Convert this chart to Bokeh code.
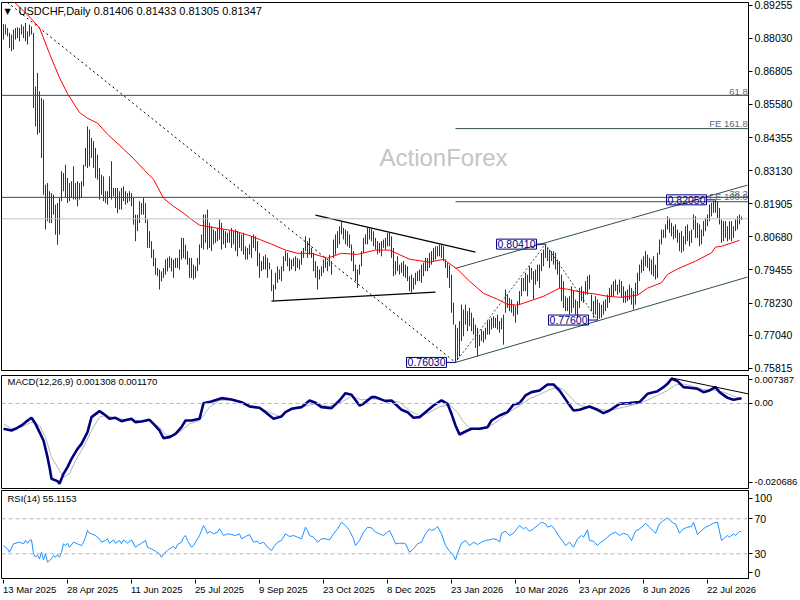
import numpy as np
from bokeh.plotting import figure
from bokeh.layouts import column
from bokeh.models import (Range1d, FixedTicker, PrintfTickFormatter, Label, Span)
from bokeh.embed import file_html
from bokeh.resources import INLINE
from bokeh.core.properties import value

# ---------------- data (prices in 1/10000) ----------------
HIGH_PIPS = [
    8856, 8854, 8841, 8823, 8817, 8835, 8841, 8844, 8841, 8854,
    8847, 8860, 8829, 8854, 8847, 8823, 8625, 8675, 8607, 8582,
    8576, 8261, 8267, 8237, 8230, 8224, 8187, 8193, 8212, 8311,
    8304, 8335, 8286, 8267, 8274, 8329, 8267, 8274, 8267, 8274,
    8335, 8397, 8477, 8465, 8434, 8422, 8397, 8372, 8323, 8298,
    8292, 8237, 8237, 8292, 8348, 8249, 8249, 8249, 8237, 8249,
    8255, 8237, 8230, 8237, 8230, 8212, 8150, 8150, 8200, 8193,
    8212, 8193, 8132, 8089, 8052, 8021, 7990, 7953, 7947, 7940,
    7953, 7984, 7990, 7996, 7990, 7984, 7990, 7990, 8021, 8064,
    8064, 8039, 8015, 7990, 7990, 7965, 7959, 7990, 8040, 8077,
    8151, 8151, 8169, 8120, 8107, 8095, 8089, 8101, 8132, 8120,
    8095, 8089, 8083, 8089, 8101, 8089, 8095, 8089, 8083, 8077,
    8083, 8033, 8027, 8040, 8070, 8077, 8070, 8052, 8009, 7978,
    7996, 8002, 7990, 7972, 7947, 7891, 7935, 7959, 7947, 7959,
    7996, 8015, 8009, 7990, 7984, 7990, 7996, 7990, 7984, 8015,
    8027, 8070, 8052, 8064, 8027, 8009, 7978, 7959, 7947, 7959,
    7984, 7990, 7978, 8002, 7978, 8058, 8077, 8089, 8107, 8126,
    8101, 8095, 8089, 8077, 8040, 8015, 7965, 7947, 7965, 8015,
    8064, 8077, 8101, 8101, 8101, 8089, 8064, 8052, 8046, 8052,
    8058, 8064, 8083, 8083, 8070, 8027, 7978, 7996, 7965, 7972,
    7978, 7965, 7959, 7922, 7928, 7916, 7935, 7941, 7947, 7965,
    7972, 7990, 7990, 8009, 8015, 8027, 8033, 8033, 8040, 8040,
    8033, 7984, 7972, 7965, 7928, 7824, 7743, 7731, 7756, 7817,
    7799, 7817, 7793, 7805, 7787, 7768, 7743, 7731, 7706, 7725,
    7719, 7731, 7756, 7762, 7768, 7774, 7768, 7780, 7756, 7768,
    7780, 7873, 7854, 7842, 7836, 7817, 7811, 7830, 7867, 7916,
    7916, 7935, 7928, 7959, 7953, 7941, 7947, 7965, 7965, 8009,
    8021, 8041, 8027, 8021, 8015, 8015, 8009, 7984, 7978, 7928,
    7904, 7848, 7842, 7848, 7885, 7867, 7836, 7830, 7879, 7885,
    7867, 7904, 7922, 7928, 7854, 7830, 7848, 7836, 7824, 7817,
    7830, 7836, 7854, 7879, 7891, 7904, 7910, 7891, 7910, 7904,
    7885, 7867, 7873, 7891, 7879, 7867, 7898, 7935, 7965, 7984,
    7996, 8015, 8002, 7990, 7984, 7996, 7965, 8009, 8058, 8095,
    8095, 8114, 8144, 8138, 8120, 8107, 8114, 8095, 8083, 8089,
    8070, 8107, 8114, 8089, 8095, 8151, 8144, 8120, 8114, 8095,
    8126, 8138, 8151, 8188, 8194, 8200, 8205, 8200, 8175, 8132,
    8126, 8126, 8107, 8126, 8126, 8107, 8132, 8144, 8151, 8143,
]
LOW_PIPS = [
    8798, 8817, 8810, 8767, 8755, 8761, 8798, 8804, 8792, 8817,
    8804, 8792, 8780, 8810, 8817, 8545, 8477, 8446, 8453, 8360,
    8224, 8095, 8126, 8119, 8119, 8150, 8076, 8039, 8076, 8200,
    8237, 8212, 8193, 8200, 8212, 8206, 8206, 8181, 8206, 8212,
    8255, 8329, 8323, 8329, 8360, 8323, 8286, 8280, 8206, 8224,
    8200, 8193, 8187, 8212, 8206, 8218, 8175, 8156, 8169, 8169,
    8200, 8187, 8193, 8200, 8181, 8113, 8052, 8089, 8119, 8150,
    8150, 8119, 8027, 8027, 7990, 7959, 7928, 7922, 7873, 7903,
    7916, 7928, 7940, 7953, 7940, 7916, 7953, 7953, 7947, 7984,
    7990, 7984, 7965, 7916, 7916, 7910, 7916, 7941, 7965, 8027,
    8021, 8046, 8021, 8027, 8015, 8040, 8046, 8052, 8058, 8021,
    8040, 8027, 8046, 8046, 8027, 8040, 8015, 7996, 8027, 8015,
    8002, 7984, 7984, 8002, 7990, 8027, 8015, 7959, 7916, 7941,
    7947, 7947, 7916, 7947, 7867, 7830, 7873, 7898, 7910, 7904,
    7941, 7978, 7959, 7941, 7947, 7959, 7941, 7953, 7947, 7965,
    7990, 8015, 7990, 8002, 7990, 7941, 7916, 7873, 7910, 7922,
    7935, 7953, 7941, 7959, 7928, 7990, 8002, 8027, 8040, 8077,
    8058, 8040, 8033, 8027, 7978, 7941, 7904, 7879, 7928, 7959,
    8009, 8040, 8040, 8058, 8052, 8033, 8021, 8003, 8009, 7996,
    8027, 8021, 8033, 8033, 7990, 7922, 7928, 7941, 7928, 7935,
    7922, 7916, 7904, 7867, 7861, 7873, 7891, 7904, 7904, 7898,
    7922, 7941, 7941, 7953, 7965, 7978, 7984, 7996, 7996, 7990,
    7978, 7953, 7916, 7879, 7787, 7743, 7603, 7612, 7626, 7682,
    7700, 7743, 7719, 7737, 7719, 7706, 7657, 7626, 7663, 7682,
    7676, 7688, 7706, 7706, 7725, 7731, 7731, 7725, 7713, 7725,
    7669, 7787, 7805, 7793, 7787, 7774, 7750, 7780, 7817, 7848,
    7867, 7867, 7848, 7898, 7910, 7836, 7891, 7904, 7879, 7941,
    7959, 7990, 7978, 7953, 7978, 7965, 7947, 7928, 7879, 7830,
    7805, 7793, 7793, 7780, 7787, 7805, 7780, 7768, 7805, 7830,
    7824, 7854, 7854, 7873, 7793, 7768, 7780, 7760, 7765, 7768,
    7780, 7793, 7805, 7824, 7848, 7848, 7867, 7854, 7861, 7842,
    7824, 7824, 7830, 7836, 7817, 7799, 7817, 7854, 7904, 7935,
    7941, 7959, 7953, 7941, 7928, 7922, 7910, 7916, 8002, 8040,
    8064, 8064, 8095, 8083, 8070, 8058, 8064, 8046, 8015, 8009,
    8015, 8040, 8052, 8033, 8046, 8095, 8064, 8064, 8033, 8040,
    8070, 8089, 8107, 8126, 8144, 8157, 8157, 8138, 8114, 8046,
    8052, 8064, 8052, 8058, 8052, 8064, 8089, 8095, 8114, 8130,
]

# moving average (bar index, price in 1/10000)
MA_POINTS = [(3, 8955), (5, 8940), (12, 8890), (18, 8842), (23, 8746), (28, 8657), (32, 8598),
             (38, 8528), (42, 8507), (47, 8489), (52, 8448), (60, 8393), (65, 8358), (70, 8318),
             (75, 8281), (80, 8211), (85, 8181), (90, 8156), (93, 8138), (98, 8111), (107, 8100),
             (116, 8089), (124, 8070), (134, 8041), (141, 8019), (147, 8007), (154, 8007),
             (162, 7989), (169, 8007), (177, 8003), (186, 8019), (193, 8019), (203, 7985),
             (213, 7974), (220, 7985), (227, 7948), (233, 7904), (240, 7859), (247, 7837),
             (252, 7818), (257, 7815), (263, 7830), (270, 7848), (278, 7878), (282, 7874),
             (289, 7863), (296, 7856), (302, 7848), (309, 7844), (317, 7852), (322, 7878),
             (329, 7898), (332, 7929), (337, 7949), (346, 7978), (354, 8009), (356, 8030),
             (359, 8033), (368, 8055)]

# MACD main line and signal (bar index, value in 1/10000)
MACD_POINTS = [(0, -62.4), (4, -66.5), (6, -62.4), (9, -54.2), (11, -46), (14, -35.3), (16, -50.1),
               (18, -70.6), (20, -91.1), (22, -132.2), (23, -156.8), (24, -185.6), (27, -191.3),
               (28, -197.9), (30, -173.2), (32, -156.8), (34, -136.3), (37, -111.7), (39, -99.4),
               (42, -70.6), (44, -33.7), (48, -18.9), (50, -25.5), (53, -37.8), (56, -35.3),
               (59, -43.5), (64, -37.8), (66, -46), (69, -44.3), (73, -40.2), (75, -50.1),
               (78, -66.5), (80, -85.4), (83, -82.9), (86, -74.7), (89, -58.3), (91, -41.9),
               (94, -41.9), (98, -37.8), (100, 0.6), (104, 4.9), (109, 13.1), (114, 9.8),
               (119, 3.3), (123, -7.4), (128, -10.7), (131, -21.4), (135, -37.8), (139, -32),
               (141, -21.4), (144, -13.1), (149, -9), (153, 7.4), (156, 1.6), (159, -9),
               (164, -11.5), (168, 7.4), (171, 25.4), (174, 21.3), (178, -5), (180, -0.8),
               (184, 15.6), (186, 15.6), (191, 5.7), (194, 7.4), (199, -15.6), (202, -21.4),
               (205, -35.3), (208, -33.7), (212, -17.2), (215, -5), (219, 7.4), (222, -0.8),
               (224, -25.5), (226, -54.2), (228, -76.4), (232, -66.5), (234, -62.4), (238, -62.4),
               (242, -58.3), (244, -41.9), (248, -29.6), (252, -21.4), (255, -2.5), (258, 0.8),
               (261, 19.7), (264, 27.9), (268, 32), (272, 46.8), (275, 46.8), (278, 32),
               (282, 3.3), (285, -17.2), (288, -15.6), (293, -7.4), (297, -15.6), (300, -23.8),
               (303, -17.2), (308, -0.8), (313, 0.8), (318, 3.3), (322, 23.8), (327, 30.4),
               (330, 40.2), (332, 48.4), (334, 60.7), (337, 55), (340, 40.2), (343, 38.6),
               (347, 36.1), (350, 27.9), (353, 32), (356, 40.2), (358, 27.9), (362, 13.9),
               (365, 9), (369, 13.08)]
SIGNAL_POINTS = [(0, -50.1), (4, -62.4), (9, -58.3), (14, -46), (18, -54.2), (21, -83), (24, -132.2),
                 (28, -165), (30, -181.5), (33, -173.2), (36, -140.4), (40, -107.6), (44, -66.5),
                 (48, -33.7), (51, -29.6), (56, -35.3), (61, -40.2), (66, -41.9), (73, -41.9),
                 (78, -58.3), (81, -76.4), (84, -81.3), (88, -70.6), (93, -50.1), (98, -41.9),
                 (103, -9), (108, 7.4), (113, 9), (119, 3.3), (126, -9), (133, -21.4), (138, -32),
                 (143, -17.2), (149, -9), (156, -0.8), (163, -7.4), (169, 3.3), (174, 17.2),
                 (179, 9), (184, 11.5), (191, 9), (198, 3.3), (203, -18), (208, -30), (213, -22),
                 (218, -8), (223, -3), (227, -22), (230, -45), (233, -60), (238, -65), (243, -57),
                 (248, -40), (253, -20), (258, -6), (263, 12), (268, 22), (273, 34), (277, 40),
                 (280, 34), (283, 18), (287, -2), (292, -10), (298, -14), (303, -18), (310, -9),
                 (317, -1), (322, 8), (327, 20), (332, 32), (336, 46), (340, 48), (345, 42),
                 (350, 34), (355, 33), (360, 28), (365, 18), (369, 11.7)]

# RSI(14) (bar index, value)
RSI_POINTS = [(0, 39.4), (2, 35.6), (3, 31.8), (5, 41.4), (8, 43.3), (10, 41.4), (11, 45.2), (12, 42.1),
              (13, 45.2), (14, 45.9), (15, 29.9), (16, 26.1), (17, 28.8), (18, 24.2), (19, 31.8),
              (20, 23.1), (21, 29.9), (22, 20.4), (23, 22.3), (24, 24.2), (25, 28), (26, 26.1),
              (27, 29.2), (28, 26.1), (29, 31.8), (30, 41.4), (31, 39.4), (32, 42.1), (33, 37.5),
              (35, 43.3), (37, 41.4), (39, 39.4), (40, 43.3), (41, 49), (42, 56.6), (43, 53.5),
              (44, 52.8), (46, 50.9), (48, 47.1), (49, 43.3), (51, 45.2), (52, 47.1), (53, 42.1),
              (55, 45.9), (56, 42.1), (58, 45.2), (59, 41.4), (60, 45.9), (62, 42.1), (64, 45.9),
              (66, 37.5), (67, 39.4), (69, 42.1), (71, 45.2), (72, 37.5), (74, 35.6), (76, 33),
              (78, 29.9), (79, 26.1), (80, 29.9), (82, 33.7), (83, 35.6), (85, 38.3), (86, 35.6),
              (87, 40.6), (89, 43.3), (90, 49), (91, 50.9), (92, 45.2), (94, 37.5), (95, 39.4),
              (96, 43.3), (97, 47.1), (98, 50.9), (99, 56.6), (100, 62.3), (101, 58.5), (102, 52.8),
              (103, 55.8), (105, 52.8), (107, 54.7), (108, 58.5), (109, 54.7), (110, 50.9),
              (112, 52.8), (114, 52), (116, 50.9), (118, 52.8), (119, 47.1), (121, 49.7), (123, 52),
              (125, 43.3), (127, 44.4), (128, 41.4), (130, 43.3), (132, 37.5), (134, 33.7),
              (135, 37.5), (137, 43.3), (139, 45.2), (141, 52.8), (143, 49.7), (145, 50.9),
              (147, 49), (149, 47.1), (151, 60.4), (152, 56.6), (153, 50.9), (155, 49), (157, 43.3),
              (159, 47.1), (161, 47.1), (163, 45.9), (165, 52.8), (167, 58.5), (169, 66.1),
              (171, 62.3), (173, 56.6), (175, 47.1), (176, 39.4), (178, 45.2), (180, 54.7),
              (182, 60.4), (184, 59.6), (186, 54.7), (188, 52.8), (190, 50.9), (192, 54.7),
              (193, 56.6), (195, 47.1), (196, 41.4), (198, 42.1), (200, 42.1), (201, 41.4),
              (203, 31.8), (205, 35.6), (207, 41.4), (209, 43.3), (211, 52.8), (213, 58.5),
              (214, 56.6), (216, 58.5), (217, 61.2), (219, 52.8), (221, 39.4), (223, 33), (225, 28),
              (226, 23.1), (227, 30.7), (229, 42.1), (231, 45.2), (233, 39.4), (235, 43.3),
              (237, 40.6), (239, 43.3), (241, 45.2), (243, 45.9), (245, 47.1), (247, 45.9),
              (248, 43.3), (249, 53.5), (251, 55.8), (253, 50.9), (255, 53.5), (258, 62.3),
              (260, 58.5), (261, 60.4), (263, 55.8), (265, 58.5), (267, 62.3), (269, 66.1),
              (271, 64.2), (272, 60.4), (274, 62.3), (276, 56.6), (278, 49), (280, 43.3),
              (281, 39.4), (283, 43.3), (285, 37.5), (287, 47.1), (289, 50.9), (290, 49),
              (292, 57.4), (293, 45.2), (295, 44.4), (297, 39.4), (298, 42.1), (300, 45.2),
              (302, 49), (304, 52.8), (306, 54.7), (308, 50.9), (310, 53.5), (312, 52), (314, 45.2),
              (316, 55.8), (318, 58.5), (320, 62.3), (321, 65), (323, 60.4), (325, 55.8),
              (326, 53.5), (328, 64.2), (330, 68), (332, 71.1), (333, 68.8), (335, 65), (336, 64.2),
              (338, 53.5), (340, 58.5), (342, 60.4), (344, 61.2), (345, 66.1), (347, 52),
              (349, 56.6), (351, 60.4), (353, 62.3), (355, 65), (357, 66.1), (359, 45.2),
              (360, 47.1), (362, 50.9), (363, 49), (365, 52.8), (366, 50.9), (368, 55.8),
              (369, 55.1153)]

PRICE_TICKS = [0.89255, 0.88030, 0.86805, 0.85580, 0.84355, 0.83130, 0.81905,
               0.80680, 0.79455, 0.78230, 0.77040, 0.75815]
DATE_IDX = [0, 32, 64, 96, 128, 160, 192, 224, 256, 288, 320, 352]
DATE_LABELS = ["13 Mar 2025", "28 Apr 2025", "11 Jun 2025", "25 Jul 2025", "9 Sep 2025",
               "23 Oct 2025", "8 Dec 2025", "23 Jan 2026", "10 Mar 2026", "23 Apr 2026",
               "8 Jun 2026", "22 Jul 2026"]

OHLC_LAST = ["0.81406", "0.81433", "0.81305", "0.81347"]
LAST_PRICE = 0.81347
FIB_FULL = [("61.8", 0.85918), ("38.2", 0.82142)]
FE_LEVELS = [("FE 161.8", 0.84687), ("FE 100.0", 0.81980)]
FE_START = 226
SWING_IDX = [226, 271, 297, 356]
SWING_VAL = [0.76030, 0.80410, 0.77600, 0.82050]
DIAG_LINE = [(0, 0.8948), (226, 0.7603)]
TRI_UPPER = [(156, 0.81485), (236, 0.80116)]
TRI_LOWER = [(134, 0.78297), (216, 0.78630)]
CHAN_LOWER = [(226, 0.7603), (372, 0.7919)]
CHAN_UPPER = [(226, 0.79513), (372, 0.82595)]
FE_LEGS = [(226, 0.7603), (271, 0.8041), (297, 0.7760)]
MACD_TREND = [(334, 0.0063), (375, 0.0021)]
MACD_NOW = ("0.001308", "0.001170")
RSI_NOW = "55.1153"

# ---------------- style ----------------
FONT = "Liberation Sans"
BAR_COLOR = "#103E5E"
LEVEL_COLOR = "#2F4F4F"
LEVEL_TEXT = "#56687A"
NAVY = "#000080"
FRAME_W = 747
PX_PER_BAR = 2.0

hi = np.array(HIGH_PIPS) / 1e4
lo = np.array(LOW_PIPS) / 1e4
n = min(len(hi), len(lo))
idx = np.arange(n)

X_LEFT = -1.0
X_RIGHT = X_LEFT + FRAME_W / PX_PER_BAR
x_range = Range1d(X_LEFT, X_RIGHT)


def make_fig(frame_h, top, bottom, y_range, label_size="10.5px"):
    p = figure(frame_width=FRAME_W, frame_height=frame_h, x_range=x_range, y_range=y_range,
               output_backend="svg", toolbar_location=None, y_axis_location="right",
               x_axis_location=None, min_border_left=1, min_border_right=51,
               min_border_top=top, min_border_bottom=bottom,
               outline_line_color="black", outline_line_width=1,
               background_fill_color="white", border_fill_color="white")
    p.grid.visible = False
    ax = p.yaxis[0]
    ax.major_tick_out = 4
    ax.major_tick_in = 0
    ax.minor_tick_out = 0
    ax.minor_tick_in = 0
    ax.axis_line_color = "black"
    ax.major_tick_line_color = "black"
    ax.major_label_text_font = FONT
    ax.major_label_text_font_size = label_size
    ax.major_label_text_color = "black"
    ax.major_label_standoff = 2
    return p


def xs(pts):
    return [a for a, _ in pts]


def ys(pts, scale=1.0):
    return [b * scale for _, b in pts]


# ---------------- main price panel ----------------
p1 = make_fig(368, 2, 5, Range1d(0.75732, 0.89355))
p1.yaxis.ticker = FixedTicker(ticks=PRICE_TICKS)
p1.yaxis.formatter = PrintfTickFormatter(format="%.5f")

p1.add_layout(Label(x=220, y=0.8362, text="ActionForex", text_align="center",
                    text_baseline="middle", text_color="#C4C4C4", text_font=FONT,
                    text_font_size="24px", level="underlay"))

for name, lvl in FIB_FULL:
    p1.add_layout(Span(location=lvl, dimension="width", line_color=LEVEL_COLOR, line_width=1))
p1.segment(x0=[FE_START] * len(FE_LEVELS), y0=[v for _, v in FE_LEVELS],
           x1=[X_RIGHT] * len(FE_LEVELS), y1=[v for _, v in FE_LEVELS],
           line_color=LEVEL_COLOR, line_width=1)
for name, lvl in FIB_FULL + FE_LEVELS:
    p1.add_layout(Label(x=X_RIGHT - 0.4, y=lvl, text=name, text_align="right",
                        text_baseline="bottom", y_offset=0, text_color=LEVEL_TEXT,
                        text_font=FONT, text_font_size="9.5px"))

p1.add_layout(Span(location=LAST_PRICE, dimension="width", line_color="#C0C0C0", line_width=1))

p1.line(xs(DIAG_LINE), ys(DIAG_LINE), line_color="black", line_width=1, line_dash="2 3")
p1.line(xs(FE_LEGS), ys(FE_LEGS), line_color=LEVEL_COLOR, line_width=1, line_dash="2 2")
p1.line(xs(TRI_UPPER), ys(TRI_UPPER), line_color="black", line_width=1.2)
p1.line(xs(TRI_LOWER), ys(TRI_LOWER), line_color="black", line_width=1.2)
p1.line(xs(CHAN_LOWER), ys(CHAN_LOWER), line_color=LEVEL_COLOR, line_width=1)
p1.line(xs(CHAN_UPPER), ys(CHAN_UPPER), line_color=LEVEL_COLOR, line_width=1)

p1.segment(x0=idx, y0=lo[:n], x1=idx, y1=hi[:n], line_color=BAR_COLOR, line_width=1)
p1.line(xs(MA_POINTS), ys(MA_POINTS, 1e-4), line_color="#FF0000", line_width=1)

for i, v in zip(SWING_IDX, SWING_VAL):
    p1.segment(x0=[i - 4.5], y0=[v], x1=[i], y1=[v], line_color=NAVY, line_width=1)
    p1.add_layout(Label(x=i - 4.5, y=v, text=f"{v:.5f}", text_align="right",
                        text_baseline="middle", text_color=NAVY, text_font=FONT,
                        text_font_size="10.5px", border_line_color=NAVY, border_line_width=1,
                        padding=1))

p1.add_layout(Label(x=X_RIGHT, y=LAST_PRICE, x_offset=1, text=f"{LAST_PRICE:.5f}",
                    text_align="left", text_baseline="middle", text_color="white",
                    background_fill_color="black", text_font=FONT, text_font_size="10.5px",
                    padding=1))

p1.add_layout(Label(x=3, y=359, x_units="screen", y_units="screen", text="\u25BC",
                    text_baseline="middle", text_color="black", text_font="DejaVu Sans",
                    text_font_size="8px"))
p1.add_layout(Label(x=17, y=360, x_units="screen", y_units="screen",
                    text="USDCHF,Daily  " + " ".join(OHLC_LAST), text_baseline="middle",
                    text_color="black", text_font=FONT, text_font_size="11px"))

# ---------------- MACD panel ----------------
p2 = make_fig(113, 0, 2, Range1d(-0.02094, 0.00689), label_size="9.5px")
p2.yaxis.ticker = FixedTicker(ticks=[0.00579, 0, -0.01935])
p2.yaxis.major_label_overrides = {0.00579: "0.007387", 0: "0.00", -0.01935: "-0.020686"}
p2.add_layout(Span(location=0, dimension="width", line_color="#B4B4B4", line_width=1,
                   line_dash="4 3"))
p2.line(xs(SIGNAL_POINTS), ys(SIGNAL_POINTS, 1e-4), line_color="#B4B4B4", line_width=1)
p2.line(xs(MACD_POINTS), ys(MACD_POINTS, 1e-4), line_color=NAVY, line_width=2.6)
p2.line(xs(MACD_TREND), ys(MACD_TREND), line_color="black", line_width=1)
p2.add_layout(Label(x=6, y=107, x_units="screen", y_units="screen",
                    text="MACD(12,26,9) " + " ".join(MACD_NOW), text_baseline="middle",
                    text_color="black", text_font=FONT, text_font_size="9.5px"))

# ---------------- RSI panel ----------------
p3 = make_fig(88, 0, 1, Range1d(1.8, 102.3))
p3.yaxis.ticker = FixedTicker(ticks=[93.2, 70, 30, 8.6])
p3.yaxis.major_label_overrides = {93.2: "100", 8.6: "0"}
for lvl in (70, 30):
    p3.add_layout(Span(location=lvl, dimension="width", line_color="#B4B4B4", line_width=1,
                       line_dash="4 3"))
p3.line(xs(RSI_POINTS), ys(RSI_POINTS), line_color="#1E90FF", line_width=1)
p3.add_layout(Label(x=6, y=80, x_units="screen", y_units="screen",
                    text="RSI(14) " + RSI_NOW, text_baseline="middle",
                    text_color="black", text_font=FONT, text_font_size="9.5px"))

# ---------------- time axis strip (ticks + left-aligned date labels) ----------------
STRIP_W = 798
STRIP_H = 20
p4 = figure(frame_width=STRIP_W, frame_height=STRIP_H,
            x_range=Range1d(X_LEFT, X_LEFT + STRIP_W / PX_PER_BAR), y_range=Range1d(0, STRIP_H),
            output_backend="svg", toolbar_location=None, x_axis_location=None,
            y_axis_location=None, min_border_left=1, min_border_right=0, min_border_top=0,
            min_border_bottom=0, outline_line_color=None,
            background_fill_color="white", border_fill_color="white")
p4.grid.visible = False
p4.segment(x0=DATE_IDX, y0=[STRIP_H] * len(DATE_IDX), x1=DATE_IDX,
           y1=[STRIP_H - 4] * len(DATE_IDX), line_color="black", line_width=1)
p4.text(x=DATE_IDX, y=[STRIP_H - 10] * len(DATE_IDX), text=DATE_LABELS,
        text_font=value(FONT), text_font_size=value("9.5px"), text_color="black",
        text_align="left", text_baseline="middle", x_offset=-0.5)

layout = column(p1, p2, p3, p4)
open("out.html", "w").write(file_html(layout, INLINE, "USDCHF Daily"))
